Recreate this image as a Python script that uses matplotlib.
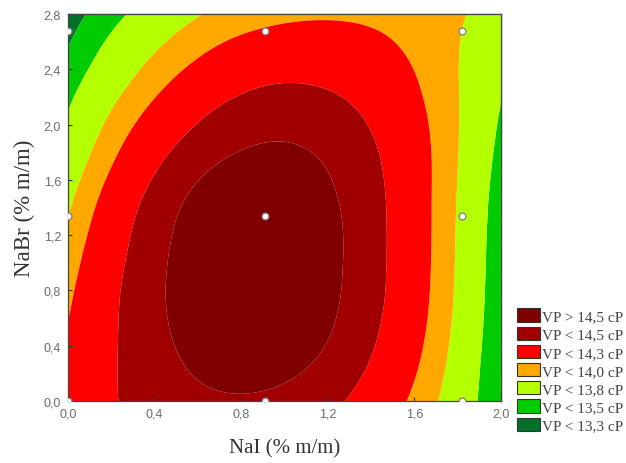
import numpy as np
import matplotlib.pyplot as plt
from matplotlib.patches import Patch
from matplotlib.ticker import FixedLocator, FuncFormatter

# VP (cP): NaI, NaBr, VP
nai_pts = [0.91, 0.55, 1.16, 0.46, 1.25, 0.87, 0.52, 1.21,
           0.87,
           0.22, 1.30, 1.395, 1.48, 1.487, 0.22, 0.30, 0.425, 0.656, 0.887, 1.00, 1.36, 1.46,
           0.00, 0.05, 0.10, 0.148, 0.27, 0.425, 0.58, 0.887, 1.19, 1.52, 1.61, 1.663, 1.658, 1.617, 1.54,
           0.00, 0.117, 0.27, 0.61, 1.86, 1.83, 1.80, 1.795, 1.765, 1.726,
           0.00, 0.117, 0.286, 2.00, 1.98, 1.934, 1.91, 1.888, 1.865,
           0.00, 0.08,
           0.00, 0.70, 1.00, 1.30, 1.60, 2.00, 2.00, 2.00, 2.00]
nabr_pts = [0.09, 0.30, 0.30, 0.93, 0.93, 1.78, 1.51, 1.51,
            0.93,
            0.00, 0.00, 0.255, 0.74, 1.465, 0.79, 1.39, 1.755, 2.12, 2.30, 2.32, 2.12, 1.75,
            0.52, 0.93, 1.25, 1.49, 1.88, 2.21, 2.43, 2.66, 2.75, 2.55, 2.19, 1.465, 0.74, 0.255, 0.00,
            1.30, 1.755, 2.24, 2.80, 2.80, 2.19, 1.465, 0.74, 0.255, 0.00,
            2.19, 2.41, 2.80, 2.24, 1.95, 1.465, 0.74, 0.255, 0.00,
            2.60, 2.80,
            0.00, 2.80, 2.80, 2.80, 2.80, 2.80, 1.465, 0.74, 0.00]
vp_pts = ([14.5] * 8 + [14.62] + [14.3] * 13 + [14.0] * 15 + [13.8] * 10 + [13.5] * 9
          + [13.3] * 2
          + [14.12, 13.87, 13.95, 13.96, 13.91, 13.7, 13.38, 13.35, 13.33])

# design points (NaI, NaBr)
design_nai = [0.0, 0.91, 1.82, 0.0, 0.91, 1.82, 0.0, 0.91, 1.82]
design_nabr = [0.0, 0.0, 0.0, 1.34, 1.34, 1.34, 2.68, 2.68, 2.68]

levels = [12.0, 13.3, 13.5, 13.8, 14.0, 14.3, 14.5, 16.0]
colors = ['#00702a', '#00cc00', '#b4ff00', '#ffa800', '#ff0000', '#a00000', '#800000']
labels = ['VP > 14,5 cP', 'VP < 14,5 cP', 'VP < 14,3 cP', 'VP < 14,0 cP',
          'VP < 13,8 cP', 'VP < 13,5 cP', 'VP < 13,3 cP']


def poly_terms(x, y, deg=4):
    u = x - 1.0
    v = (y - 1.4) / 1.4
    return np.stack([u**i * v**j for i in range(deg + 1) for j in range(deg + 1 - i)], axis=-1)


def tps_kernel(r):
    with np.errstate(divide='ignore', invalid='ignore'):
        k = r**2 * np.log(r)
    return np.nan_to_num(k)


px = np.array(nai_pts)
py = np.array(nabr_pts)
vp = np.array(vp_pts)

# smooth polynomial surface first
coef, *_ = np.linalg.lstsq(poly_terms(px, py), vp, rcond=None)
resid = vp - poly_terms(px, py) @ coef

# then a heavily smoothed thin-plate spline on what the polynomial misses
n = len(px)
K = tps_kernel(np.hypot(px[:, None] - px[None, :], py[:, None] - py[None, :]))
P = np.column_stack([np.ones(n), px, py])
M = np.zeros((n + 3, n + 3))
M[:n, :n] = K + 0.3 * np.eye(n)
M[:n, n:] = P
M[n:, :n] = P.T
sol = np.linalg.solve(M, np.concatenate([resid, np.zeros(3)]))
wts, aff = sol[:n], sol[n:]

xg, yg = np.meshgrid(np.linspace(0, 2.0, 300), np.linspace(0, 2.8, 300))
dist = np.hypot(xg[..., None] - px, yg[..., None] - py)
zg = (poly_terms(xg, yg) @ coef + tps_kernel(dist) @ wts
      + aff[0] + aff[1] * xg + aff[2] * yg)

fig = plt.figure(figsize=(6.26, 4.64), dpi=100)
ax = fig.add_axes([0.1086, 0.1336, 0.6917, 0.8341])
ax.contourf(xg, yg, zg, levels=levels, colors=colors, antialiased=True)
ax.scatter(design_nai, design_nabr, s=24, c='white', edgecolors='#808080',
           linewidths=0.9, zorder=3)

ax.set_xlim(0, 2.0)
ax.set_ylim(0, 2.8)
comma = FuncFormatter(lambda v, p: f'{v:.1f}'.replace('.', ','))
ax.xaxis.set_major_locator(FixedLocator(np.arange(0, 2.01, 0.4)))
ax.yaxis.set_major_locator(FixedLocator(np.arange(0, 2.81, 0.4)))
ax.xaxis.set_major_formatter(comma)
ax.yaxis.set_major_formatter(comma)
ax.tick_params(direction='in', length=3, width=0.8, color='#333333',
               labelsize=9, labelcolor='#6a6a6a', pad=5)
for lab in ax.get_xticklabels() + ax.get_yticklabels():
    lab.set_family('Liberation Sans')

# small ticks along top and right borders
top = ax.secondary_xaxis('top')
top.set_xticks(np.arange(1, 11) * 2.0 / 11, labels=[])
top.tick_params(direction='in', length=3, width=0.8, color='#333333')
right = ax.secondary_yaxis('right')
right.set_yticks(np.arange(1, 15) * 2.8 / 15, labels=[])
right.tick_params(direction='in', length=3, width=0.8, color='#333333')
for sp in list(ax.spines.values()) + [top.spines['top'], right.spines['right']]:
    sp.set_color('#444444')
    sp.set_linewidth(0.9)

ax.set_xlabel('NaI (% m/m)', family='Liberation Serif', fontsize=15, color='#333333', labelpad=13)
ax.set_ylabel('NaBr (% m/m)', family='Liberation Serif', fontsize=16.5, color='#333333', labelpad=6)

handles = [Patch(facecolor=c, edgecolor='#333333', linewidth=0.8) for c in colors[::-1]]
fig.legend(handles, labels, loc='upper left', bbox_to_anchor=(0.826, 0.333),
           frameon=False, prop={'family': 'Liberation Serif', 'size': 11},
           labelcolor='#444444', handlelength=1.5, handleheight=0.95,
           handletextpad=0.15, labelspacing=0.22, borderpad=0, borderaxespad=0)

plt.savefig('out.png')
